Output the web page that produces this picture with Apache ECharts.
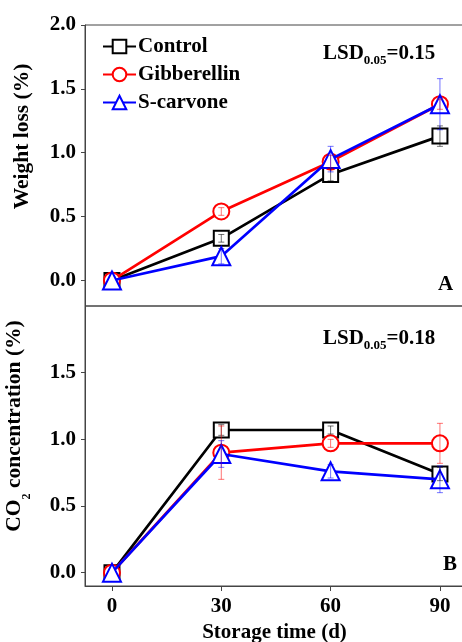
<!DOCTYPE html>
<html>
<head>
<meta charset="utf-8">
<script src="https://cdn.jsdelivr.net/npm/echarts@6/dist/echarts.min.js"></script>
<style>
  html, body { margin: 0; padding: 0; background: #fff; }
  #chart { width: 462px; height: 642px; }
</style>
</head>
<body>
<div id="chart"></div>
<script>
// storage days
const days = [0, 30, 60, 90];
const seriesNames = ['Control', 'Gibberellin', 'S-carvone'];

// panel A: weight loss (%)
const weightControl = [0, 0.33, 0.83, 1.13];
const weightGibb = [0, 0.54, 0.93, 1.38];
const weightCarv = [0, 0.19, 0.95, 1.38];
const weightControlErr = [0, 0.03, 0.05, 0.08];
const weightGibbErr = [0, 0.03, 0.05, 0.04];
const weightCarvErr = [0, 0.06, 0.1, 0.2];

// panel B: CO2 concentration (%)
const co2Control = [0, 1.07, 1.07, 0.74];
const co2Gibb = [0, 0.9, 0.97, 0.97];
const co2Carv = [0, 0.89, 0.76, 0.7];
const co2ControlErr = [0, 0.04, 0.03, 0.05];
const co2GibbErr = [0, 0.2, 0.03, 0.15];
const co2CarvErr = [0, 0.1, 0.05, 0.1];

const xTicks = [0, 30, 60, 90];
const yTicksA = [0, 0.5, 1.0, 1.5, 2.0];
const yTicksB = [0, 0.5, 1.0, 1.5];

const FONT = 'Liberation Serif';
const colors = ['#000000', '#ff0000', '#0000ff'];
const symbols = ['rect', 'circle', 'triangle'];
const sizes = [15, 16, 18];
const AXIS = '#444';

const chart = echarts.init(document.getElementById('chart'));

// text width helper for the LSD labels
const ctx = document.createElement('canvas').getContext('2d');
function textW(str, size) {
  ctx.font = 'bold ' + size + 'px ' + FONT;
  return ctx.measureText(str).width;
}

function lsdLabel(x, y, value) {
  const w1 = textW('LSD', 21), w2 = textW('0.05', 13);
  return {
    type: 'group', left: x, top: y,
    children: [
      { type: 'text', x: 0, y: 0, style: { text: 'LSD', font: 'bold 21px ' + FONT, fill: '#000' } },
      { type: 'text', x: w1, y: 11, style: { text: '0.05', font: 'bold 13px ' + FONT, fill: '#000' } },
      { type: 'text', x: w1 + w2, y: 0, style: { text: '=' + value, font: 'bold 21px ' + FONT, fill: '#000' } }
    ]
  };
}

function lineSeries(name, idx, data, axisIdx) {
  return {
    name: name,
    type: 'line',
    xAxisIndex: axisIdx,
    yAxisIndex: axisIdx,
    data: days.map((d, i) => [d, data[i]]),
    symbol: symbols[idx],
    symbolSize: sizes[idx],
    showAllSymbol: true,
    lineStyle: { color: colors[idx], width: 2.7 },
    itemStyle: { color: '#fff', borderColor: colors[idx], borderWidth: 2 },
    z: 2 + idx,
    animation: false
  };
}

// error bars with small caps
function errSeries(name, idx, data, err, axisIdx) {
  return {
    name: name + ' err',
    type: 'custom',
    xAxisIndex: axisIdx,
    yAxisIndex: axisIdx,
    data: days.map((d, i) => [d, data[i], err[i]]).filter(r => r[2] > 0),
    encode: { x: 0, y: 1 },
    z: 10,
    silent: true,
    renderItem: function (params, api) {
      const x = api.value(0), y = api.value(1), e = api.value(2);
      const top = api.coord([x, y + e]);
      const bot = api.coord([x, y - e]);
      const st = { stroke: colors[idx], lineWidth: 1, opacity: 0.55 };
      return {
        type: 'group',
        children: [
          { type: 'line', shape: { x1: top[0], y1: top[1], x2: bot[0], y2: bot[1] }, style: st },
          { type: 'line', shape: { x1: top[0] - 3, y1: top[1], x2: top[0] + 3, y2: top[1] }, style: st },
          { type: 'line', shape: { x1: bot[0] - 3, y1: bot[1], x2: bot[0] + 3, y2: bot[1] }, style: st }
        ]
      };
    }
  };
}

const labelStyle = { color: '#000', fontFamily: FONT, fontWeight: 'bold', fontSize: 21 };
const axisLine = { show: true, onZero: false, lineStyle: { color: AXIS, width: 1 } };

const option = {
  backgroundColor: '#fff',
  animation: false,
  legend: {
    data: seriesNames,
    orient: 'vertical',
    left: 102,
    top: 36,
    padding: 0,
    itemWidth: 33,
    itemHeight: 17,
    itemGap: 7,
    textStyle: { color: '#000', fontFamily: FONT, fontWeight: 'bold', fontSize: 21, padding: [0, 0, 0, -3] }
  },
  grid: [
    { left: 85, right: -2, top: 25, height: 281, show: true, borderColor: AXIS, borderWidth: 1, containLabel: false, outerBoundsMode: 'none' },
    { left: 85, right: -2, top: 306, height: 280, show: true, borderColor: AXIS, borderWidth: 1, containLabel: false, outerBoundsMode: 'none' }
  ],
  xAxis: [
    {
      type: 'value', gridIndex: 0, min: -7.4, max: 96.6,
      axisLine: { show: false, onZero: false }, axisTick: { show: false }, axisLabel: { show: false }, splitLine: { show: false }
    },
    {
      type: 'value', gridIndex: 1, min: -7.4, max: 96.6, position: 'bottom',
      name: 'Storage time (d)', nameLocation: 'middle', nameGap: 36,
      nameTextStyle: labelStyle,
      axisLine: axisLine,
      axisTick: { show: true, inside: false, length: 5, lineStyle: { color: AXIS, width: 1 }, customValues: xTicks },
      axisLabel: Object.assign({ margin: 10, customValues: xTicks }, labelStyle),
      splitLine: { show: false }
    }
  ],
  yAxis: [
    {
      type: 'value', gridIndex: 0, min: -0.2, max: 2.0, position: 'left',
      name: 'Weight loss (%)', nameLocation: 'middle', nameGap: 52, nameRotate: 90,
      nameTextStyle: Object.assign({}, labelStyle, { fontSize: 21.5, padding: [0, 0, 0, 58] }),
      axisLine: axisLine,
      axisTick: { show: true, inside: false, length: 4, lineStyle: { color: AXIS, width: 1 }, customValues: yTicksA },
      axisLabel: Object.assign({ margin: 9, customValues: yTicksA, formatter: v => v.toFixed(1) }, labelStyle),
      splitLine: { show: false }
    },
    {
      type: 'value', gridIndex: 1, min: -0.1, max: 2.0, position: 'left',
      name: '{a|CO}{s|2}{a| concentration (%)}', nameLocation: 'middle', nameGap: 52, nameRotate: 90,
      nameTextStyle: Object.assign({}, labelStyle, {
        padding: [0, 0, 0, 40],
        rich: {
          a: { fontFamily: FONT, fontWeight: 'bold', fontSize: 21.5, color: '#000', verticalAlign: 'bottom', padding: [0, 0, 8, 0] },
          s: { fontFamily: FONT, fontWeight: 'bold', fontSize: 12, color: '#000', verticalAlign: 'bottom' }
        }
      }),
      axisLine: axisLine,
      axisTick: { show: true, inside: false, length: 4, lineStyle: { color: AXIS, width: 1 }, customValues: yTicksB },
      axisLabel: Object.assign({ margin: 9, customValues: yTicksB, formatter: v => v.toFixed(1) }, labelStyle),
      splitLine: { show: false }
    }
  ],
  graphic: [
    lsdLabel(323, 43, '0.15'),
    lsdLabel(323, 328, '0.18'),
    { type: 'text', left: 438, top: 274, style: { text: 'A', font: 'bold 21px ' + FONT, fill: '#000' } },
    { type: 'text', left: 443, top: 554, style: { text: 'B', font: 'bold 21px ' + FONT, fill: '#000' } }
  ],
  series: [
    lineSeries('Control', 0, weightControl, 0),
    lineSeries('Gibberellin', 1, weightGibb, 0),
    lineSeries('S-carvone', 2, weightCarv, 0),
    errSeries('Control', 0, weightControl, weightControlErr, 0),
    errSeries('Gibberellin', 1, weightGibb, weightGibbErr, 0),
    errSeries('S-carvone', 2, weightCarv, weightCarvErr, 0),
    lineSeries('Control', 0, co2Control, 1),
    lineSeries('Gibberellin', 1, co2Gibb, 1),
    lineSeries('S-carvone', 2, co2Carv, 1),
    errSeries('Control', 0, co2Control, co2ControlErr, 1),
    errSeries('Gibberellin', 1, co2Gibb, co2GibbErr, 1),
    errSeries('S-carvone', 2, co2Carv, co2CarvErr, 1)
  ]
};

chart.setOption(option);
</script>
</body>
</html>
